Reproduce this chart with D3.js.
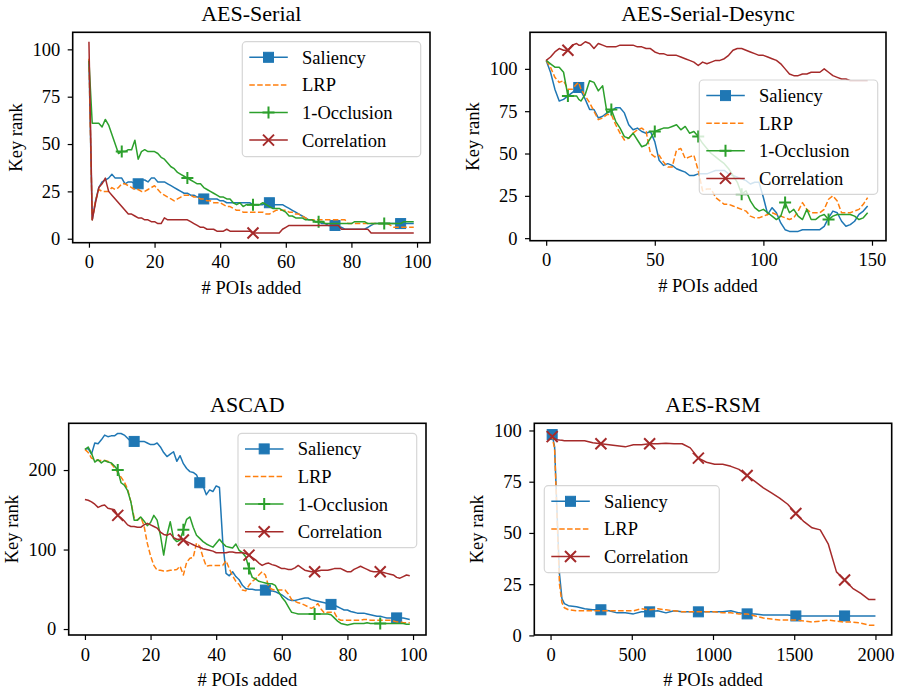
<!DOCTYPE html>
<html>
<head>
<meta charset="utf-8">
<script src="https://cdn.jsdelivr.net/npm/d3@7"></script>
<style>
body { margin: 0; background: #fff; }
svg { display: block; }
svg text { font-family: "Liberation Serif", "DejaVu Serif", serif; }
</style>
</head>
<body>
<svg width="898" height="694"></svg>
<script>
/*
DATA - AES-Serial (x = 0..99)
*/
var serialSaliency = [94,10,20,27,30,31,32,34,32,32,32,29,30,30,29,29,31,31,30,32,
	32,30,30,30,29,28,27,26,25,24,24,23,23,22,22,21,21,21,21,21,
	20,20,19,19,19,19,19,19,19,19,18,18,18,18,19,19,18,18,18,18,
	17,16,15,14,13,12,11,10,10,9,9,8,8,7,7,7,6,6,5,5,
	5,5,5,5,5,6,7,8,8,8,8,8,8,8,8,8,8,8,8,8]
var serialLrp = [95,10,20,26,25,25,25,27,26,27,29,29,28,27,26,26,25,25,26,27,
	28,26,24,23,22,21,20,21,22,23,23,23,22,22,21,21,20,20,19,19,
	19,18,17,17,16,15,15,14,14,14,14,14,14,14,13,13,14,15,15,15,
	15,14,14,13,13,12,11,10,10,10,10,10,10,10,10,10,10,10,10,8,
	8,8,8,8,8,8,8,8,8,8,8,8,7,6,6,6,6,6,6,6]
var serialOcclusion = [94,61,61,61,59,63,60,55,50,45,46,46,47,47,52,42,46,47,46,46,
	46,45,43,42,40,38,37,35,34,33,32,31,30,29,29,27,26,25,24,23,
	22,22,21,21,19,18,19,17,18,18,18,18,18,19,18,17,16,16,16,15,
	14,12,12,11,11,11,10,10,10,9,9,9,8,8,8,8,8,8,8,8,
	8,9,9,9,9,8,8,8,8,8,8,8,8,8,8,8,9,9,9,9]
var serialCorrelation = [104,10,19,27,29,32,25,23,21,19,17,15,13,13,12,11,11,10,10,9,
	9,8,8,11,10,10,10,10,10,10,10,9,8,7,6,6,5,5,5,4,
	4,4,5,4,4,4,4,4,4,4,3,3,3,3,3,3,3,3,3,5,
	6,7,7,7,7,7,7,7,7,7,7,7,7,7,7,7,7,5,5,5,
	5,5,5,5,5,5,3,3,3,3,3,3,3,3,3,3,3,3,3,3]

/*
DATA - AES-Serial-Desync
*/
var desyncX = [0,2,4,6,8,10,12,14,15,16,18,20,22,24,26,28,30,32,34,36,38,40,42,44,46,48,50,
	52,54,56,58,60,62,64,66,68,70,72,74,76,78,80,82,84,86,88,90,92,94,96,98,100,
	102,104,106,108,110,112,114,116,118,120,122,124,126,128,130,132,134,136,138,140,142,144,146,148]
var desyncSaliency = [105,98,88,81,82,84,86,88,89,
	87,82,76,76,71,72,74,75,77,77,
	74,67,64,65,63,62,63,57,46,43,
	44,43,41,40,39,37,37,38,38,38,
	39,40,40,40,38,37,36,35,34,32,
	33,33,24,14,18,15,9,5,4,4,
	4,5,5,5,5,5,7,12,16,15,
	10,7,8,10,14,16,19]
var desyncLrp = [105,101,95,92,93,88,88,91,92,
	88,84,80,75,70,71,73,73,67,62,
	58,59,62,64,65,63,50,48,49,45,
	42,42,52,53,47,48,49,40,28,29,
	29,24,22,20,20,19,18,17,16,13,
	12,12,13,14,15,14,13,12,11,12,
	16,21,17,15,15,15,17,23,25,22,
	15,15,15,16,17,20,24]
var desyncOcclusion = [105,103,101,101,98,84,84,84,82,
	81,85,93,92,87,90,74,76,69,65,
	60,59,62,58,54,55,59,63,64,65,
	65,66,67,64,66,62,63,60,56,53,
	50,48,46,44,41,37,33,26,28,22,
	18,16,17,15,13,11,13,21,15,17,
	13,11,17,11,11,13,14,11,13,14,
	14,14,14,13,11,12,15]
var desyncCorrelation = [105,107,110,112,111,111,114,115,114,
	114,116,115,112,115,114,113,113,113,114,
	114,114,114,113,113,112,112,110,109,109,
	108,108,108,107,106,105,104,102,104,103,
	104,105,105,106,108,111,112,112,111,110,
	109,108,108,107,106,105,103,100,97,96,
	96,97,97,98,98,98,100,98,96,95,
	94,94,93,93,93,93,93]

/*
DATA - ASCAD (x = 0..99)
*/
var ascadSaliency = [226,227,220,234,233,238,244,242,243,243,246,246,244,240,236,236,236,236,236,234,
	232,232,234,229,222,217,220,223,211,218,208,202,198,197,194,184,180,169,175,173,
	180,178,110,70,67,72,66,62,55,51,50,50,49,49,49,49,48,48,47,45,
	43,40,37,36,36,37,38,39,39,37,36,35,34,33,32,31,30,28,26,24,
	24,22,21,20,20,20,19,18,17,16,16,15,14,14,14,14,14,14,13,12]
var ascadLrp = [226,222,215,213,212,212,212,211,208,203,197,191,185,176,160,140,137,141,130,108,
	92,80,74,74,73,73,74,74,75,79,68,84,89,90,108,104,90,79,80,80,
	80,80,80,86,76,67,60,56,49,48,55,60,63,68,72,68,53,50,49,49,
	49,49,44,37,35,33,32,30,28,26,28,32,25,20,21,21,21,13,11,11,
	11,11,11,11,11,12,12,11,11,11,11,11,11,11,10,9,9,8,8,8]
var ascadOcclusion = [226,229,221,210,213,209,212,210,209,205,200,184,181,174,160,137,137,141,136,130,
	134,143,137,118,93,118,135,114,110,112,125,138,141,128,118,114,110,107,105,103,
	108,113,108,104,103,102,107,99,96,91,76,65,63,60,59,58,57,57,55,47,
	40,35,28,21,20,19,19,19,19,19,19,19,19,19,19,18,14,10,7,6,
	5,6,7,7,7,7,8,7,7,7,7,7,7,7,7,7,7,7,6,6]
var ascadCorrelation = [163,162,160,157,153,155,156,152,151,150,143,140,136,131,129,129,128,128,131,133,
	131,129,127,122,119,118,120,115,113,113,112,110,108,106,104,103,101,100,99,98,
	96,96,96,96,97,97,96,96,96,95,93,90,87,83,80,82,83,81,80,78,
	76,76,75,75,77,80,77,74,73,72,72,73,74,74,74,75,76,76,76,74,
	72,72,75,77,79,77,75,73,72,72,72,71,70,69,68,65,64,66,68,67]

/*
DATA - AES-RSM
*/
var rsmX = [0,10,25,40,55,70,85,110,160,210,260,310,360,410,460,510,560,610,660,710,760,810,860,
	910,960,1010,1060,1110,1160,1210,1260,1310,1360,1410,1460,1510,1560,1610,1660,1710,1760,1810,
	1860,1910,1960,2000]
var rsmSaliency = [99,98,92,60,30,18,15.5,14.5,14,13,12.5,12.5,12,11,11,10.5,11.5,11.5,12,11,12,11.5,11.5,
	11.5,11.5,11.5,11.5,12,11,10.5,10.5,10,10,10,10,9.5,9.5,9.5,9.5,9.5,9.5,9.5,
	9.5,9.5,9.5,9.5]
var rsmLrp = [98,97,91,58,25,16,13.5,12.5,12,12,12,12,12,12,12,12,13,12.5,13,12.5,12,11.5,11.5,
	11.5,11.5,11.5,11,11,10.5,10.5,9.5,8.5,8,7.5,7.5,7.5,7,6.5,7,7.5,7,6.5,
	6.5,6,5,5]
var rsmCorrelation = [98,97,96,95.5,95.3,95.2,95,95,95,95,94,93.5,93,92.5,92,93,93,93.5,93.5,93.8,93.5,93.5,91.5,
	86.5,84.5,83.5,83.5,82.5,81,78,75,72,69.5,67,64,59.5,55.5,52.5,51.5,44.5,31,27,
	23,20.5,17.5,17.5]

/*
MARKER POSITIONS (x values)
*/
var serialSaliencyMarks = [15,35,55,75,95]
var serialOcclusionMarks = [10,30,50,70,90]
var serialCorrelationMarks = [50]
var desyncSaliencyMarks = [15]
var desyncOcclusionMarks = [10,30,50,70,90,110,130]
var desyncCorrelationMarks = [10]
var ascadSaliencyMarks = [15,35,55,75,95]
var ascadOcclusionMarks = [10,30,50,70,90]
var ascadCorrelationMarks = [10,30,50,70,90]
var rsmMarks = [10,310,610,910,1210,1510,1810]

/*
TICKS
*/
var ticksX100 = [0,20,40,60,80,100]
var ticksX150 = [0,50,100,150]
var ticksX2000 = [0,500,1000,1500,2000]
var ticksY100 = [0,25,50,75,100]
var ticksY200 = [0,100,200]

var svg = d3.select("svg")

var stili = {
	"Saliency": {color: "#1f77b4", marker: "square", dash: null},
	"LRP": {color: "#ff7f0e", marker: null, dash: "5.5,2.4"},
	"1-Occlusion": {color: "#2ca02c", marker: "plus", dash: null},
	"Correlation": {color: "#a52a2a", marker: "cross", dash: null}
}

var x100 = d3.range(100)

var pannelli = [
	{title: "AES-Serial", box: [72.7, 32.3, 430, 242.7], xDom: [-4.95, 103.95], yDom: [-2.1, 109],
	 xTicks: ticksX100, yTicks: ticksY100, legend: [242.3, 41.7, 178.4, 115],
	 series: [
		{name: "Saliency", xs: x100, ys: serialSaliency, marks: serialSaliencyMarks},
		{name: "LRP", xs: x100, ys: serialLrp, marks: []},
		{name: "1-Occlusion", xs: x100, ys: serialOcclusion, marks: serialOcclusionMarks},
		{name: "Correlation", xs: x100, ys: serialCorrelation, marks: serialCorrelationMarks}]},
	{title: "AES-Serial-Desync", box: [530, 32.3, 886, 240.7], xDom: [-7.45, 156.45], yDom: [-1.5, 121.6],
	 xTicks: ticksX150, yTicks: ticksY100, legend: [699.3, 80, 178.4, 114.3],
	 series: [
		{name: "Saliency", xs: desyncX, ys: desyncSaliency, marks: desyncSaliencyMarks},
		{name: "LRP", xs: desyncX, ys: desyncLrp, marks: []},
		{name: "1-Occlusion", xs: desyncX, ys: desyncOcclusion, marks: desyncOcclusionMarks},
		{name: "Correlation", xs: desyncX, ys: desyncCorrelation, marks: desyncCorrelationMarks}]},
	{title: "ASCAD", box: [68.7, 423.3, 426, 635], xDom: [-4.95, 103.95], yDom: [-7.5, 258.8],
	 xTicks: ticksX100, yTicks: ticksY200, legend: [238, 433.3, 178.7, 114.4],
	 series: [
		{name: "Saliency", xs: x100, ys: ascadSaliency, marks: ascadSaliencyMarks},
		{name: "LRP", xs: x100, ys: ascadLrp, marks: []},
		{name: "1-Occlusion", xs: x100, ys: ascadOcclusion, marks: ascadOcclusionMarks},
		{name: "Correlation", xs: x100, ys: ascadCorrelation, marks: ascadCorrelationMarks}]},
	{title: "AES-RSM", box: [534.3, 423.3, 891.7, 635], xDom: [-100, 2100], yDom: [0.2, 103.5],
	 xTicks: ticksX2000, yTicks: ticksY100, legend: [544.3, 485.7, 175, 87],
	 series: [
		{name: "Saliency", xs: rsmX, ys: rsmSaliency, marks: rsmMarks},
		{name: "LRP", xs: rsmX, ys: rsmLrp, marks: []},
		{name: "Correlation", xs: rsmX, ys: rsmCorrelation, marks: rsmMarks}]}
]

/*
DISEGNA UN MARKER
*/
function disegnaMarker(g, tipo, cx, cy, color) {
	if (tipo == "square") {
		g.append("rect")
			.attr("x", cx - 5).attr("y", cy - 5)
			.attr("width", 10).attr("height", 10)
			.attr("fill", color).attr("stroke", color).attr("stroke-width", 1)
	} else if (tipo == "plus") {
		g.append("path")
			.attr("d", "M" + (cx - 6) + "," + cy + "H" + (cx + 6) + "M" + cx + "," + (cy - 6) + "V" + (cy + 6))
			.attr("stroke", color).attr("stroke-width", 2).attr("fill", "none")
	} else if (tipo == "cross") {
		g.append("path")
			.attr("d", "M" + (cx - 5.5) + "," + (cy - 5.5) + "L" + (cx + 5.5) + "," + (cy + 5.5) +
				"M" + (cx - 5.5) + "," + (cy + 5.5) + "L" + (cx + 5.5) + "," + (cy - 5.5))
			.attr("stroke", color).attr("stroke-width", 2).attr("fill", "none")
	}
}

/*
DISEGNA UN PANNELLO
*/
function disegnaPannello(p) {
	var left = p.box[0], top = p.box[1], right = p.box[2], bottom = p.box[3]
	var x = d3.scaleLinear().domain(p.xDom).range([left, right])
	var y = d3.scaleLinear().domain(p.yDom).range([bottom, top])
	var g = svg.append("g")

	// linee
	p.series.forEach(function(s) {
		var st = stili[s.name]
		var pts = s.xs.map(function(d, i) { return [d, s.ys[i]] })
		var line = d3.line().x(function(d) { return x(d[0]) }).y(function(d) { return y(d[1]) })
		g.append("path")
			.attr("d", line(pts))
			.attr("fill", "none")
			.attr("stroke", st.color)
			.attr("stroke-width", 1.5)
			.attr("stroke-linejoin", "round")
			.attr("stroke-dasharray", st.dash)
		s.marks.forEach(function(m) {
			var i = s.xs.indexOf(m)
			if (i >= 0) disegnaMarker(g, st.marker, x(m), y(s.ys[i]), st.color)
		})
	})

	// assi
	var ax = g.append("g")
		.attr("transform", "translate(0," + bottom + ")")
		.call(d3.axisBottom(x).tickValues(p.xTicks).tickSize(5).tickPadding(7.5).tickFormat(d3.format("d")))
	var ay = g.append("g")
		.attr("transform", "translate(" + left + ",0)")
		.call(d3.axisLeft(y).tickValues(p.yTicks).tickSize(5).tickPadding(7.5).tickFormat(d3.format("d")))
	;[ax, ay].forEach(function(a) {
		a.select(".domain").remove()
		a.attr("font-family", null).attr("font-size", null)
		a.selectAll("line").attr("stroke", "#000").attr("stroke-width", 1.2)
		a.selectAll("text").attr("fill", "#000").style("font-size", "18.5px")
	})

	// cornice
	g.append("rect")
		.attr("x", left).attr("y", top)
		.attr("width", right - left).attr("height", bottom - top)
		.attr("fill", "none").attr("stroke", "#000").attr("stroke-width", 1.6)

	// titolo ed etichette
	g.append("text")
		.attr("x", (left + right) / 2).attr("y", top - 11)
		.attr("text-anchor", "middle")
		.style("font-size", "22px")
		.text(p.title)
	g.append("text")
		.attr("x", (left + right) / 2).attr("y", bottom + 51)
		.attr("text-anchor", "middle")
		.style("font-size", "18.5px")
		.text("# POIs added")
	g.append("text")
		.attr("transform", "translate(" + (left - 51) + "," + ((top + bottom) / 2) + ") rotate(-90)")
		.attr("text-anchor", "middle")
		.style("font-size", "18.5px")
		.text("Key rank")

	// legenda
	var L = p.legend
	var lg = g.append("g")
	lg.append("rect")
		.attr("x", L[0]).attr("y", L[1]).attr("width", L[2]).attr("height", L[3])
		.attr("rx", 4).attr("ry", 4)
		.attr("fill", "#fff").attr("fill-opacity", 0.8)
		.attr("stroke", "#cccccc").attr("stroke-opacity", 0.8).attr("stroke-width", 1.2)
	p.series.forEach(function(s, i) {
		var st = stili[s.name]
		var ry = L[1] + 15.6 + i * 27.6
		lg.append("line")
			.attr("x1", L[0] + 7).attr("x2", L[0] + 45.5)
			.attr("y1", ry).attr("y2", ry)
			.attr("stroke", st.color).attr("stroke-width", 1.5)
			.attr("stroke-dasharray", st.dash)
		if (st.marker) disegnaMarker(lg, st.marker, L[0] + 26.2, ry, st.color)
		lg.append("text")
			.attr("x", L[0] + 59.7).attr("y", ry)
			.attr("dy", "0.35em")
			.style("font-size", "18.5px")
			.text(s.name)
	})
}

pannelli.forEach(disegnaPannello)
</script>
</body>
</html>
